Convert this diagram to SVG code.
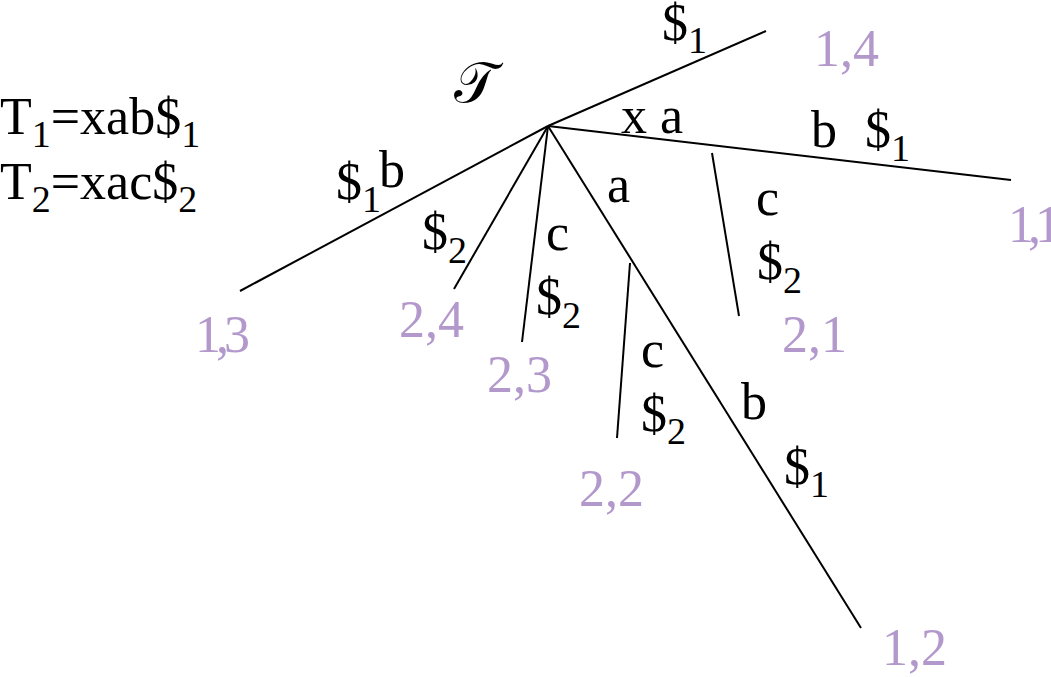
<svg xmlns="http://www.w3.org/2000/svg" width="1051" height="677" viewBox="0 0 1051 677">
<style>
text{font-family:"Liberation Serif","Times New Roman",serif;font-size:52px;fill:#000}
.leaf{fill:#b398cc}
.sub{font-size:38px}
.edge{stroke:#000;stroke-width:2;fill:none;stroke-linecap:butt}
.script{font-family:"DejaVu Serif","Noto Sans","Liberation Serif",serif;font-style:normal;font-size:56px}
</style>
<rect width="1051" height="677" fill="#fff"/>
<g id="connectors">
<line class="edge" x1="548" y1="126" x2="766" y2="31"/>
<line class="edge" x1="548" y1="126" x2="1011" y2="180"/>
<line class="edge" x1="548" y1="126" x2="240" y2="291"/>
<line class="edge" x1="548" y1="126" x2="454" y2="289"/>
<line class="edge" x1="548" y1="126" x2="522" y2="342"/>
<line class="edge" x1="548" y1="126" x2="861" y2="628"/>
<line class="edge" x1="630" y1="263" x2="617" y2="438"/>
<line class="edge" x1="712" y1="153" x2="739" y2="316"/>
</g>
<g id="strings">
<text x="0" y="134">T<tspan class="sub" dy="13">1</tspan><tspan dy="-13">=xab$</tspan><tspan class="sub" dy="13">1</tspan></text>
<text x="0" y="199">T<tspan class="sub" dy="13">2</tspan><tspan dy="-13">=xac$</tspan><tspan class="sub" dy="13">2</tspan></text>
</g>
<g id="root">
<text class="script" x="454" y="102">𝒯</text>
</g>
<g id="edge-labels">
<text x="662" y="40">$<tspan class="sub" dy="13">1</tspan></text>
<text x="621" y="133">x a</text>
<text x="811" y="147">b</text>
<text x="865" y="147">$<tspan class="sub" dy="14">1</tspan></text>
<text x="336" y="199">$<tspan class="sub" dy="13">1</tspan></text>
<text x="379" y="187">b</text>
<text x="422" y="249">$<tspan class="sub" dy="14">2</tspan></text>
<text x="546" y="250">c</text>
<text x="536" y="314">$<tspan class="sub" dy="14">2</tspan></text>
<text x="607" y="202">a</text>
<text x="641" y="367">c</text>
<text x="641" y="431">$<tspan class="sub" dy="13">2</tspan></text>
<text x="741" y="419">b</text>
<text x="784" y="484">$<tspan class="sub" dy="13">1</tspan></text>
<text x="756" y="215">c</text>
<text x="757" y="279">$<tspan class="sub" dy="14">2</tspan></text>
</g>
<g id="leaf-1-4"><text class="leaf" x="814" y="66">1,4</text></g>
<g id="leaf-1-1"><text class="leaf" x="1008" y="242" letter-spacing="-6">1,1</text></g>
<g id="leaf-1-3"><text class="leaf" x="195" y="352" letter-spacing="-5">1,3</text></g>
<g id="leaf-2-4"><text class="leaf" x="399" y="337">2,4</text></g>
<g id="leaf-2-3"><text class="leaf" x="487" y="392">2,3</text></g>
<g id="leaf-2-2"><text class="leaf" x="579" y="506">2,2</text></g>
<g id="leaf-2-1"><text class="leaf" x="782" y="352">2,1</text></g>
<g id="leaf-1-2"><text class="leaf" x="882" y="665">1,2</text></g>
</svg>
